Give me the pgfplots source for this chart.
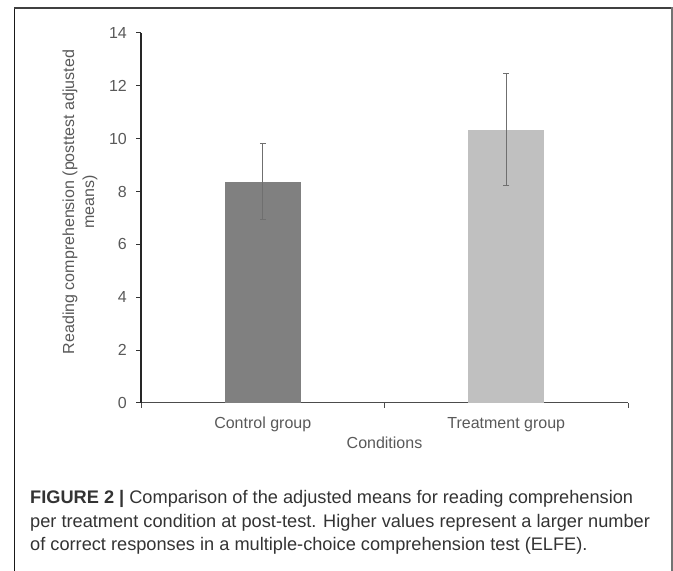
\documentclass[border=0pt]{standalone}
\usepackage{fontspec}
\setmainfont{Liberation Sans}
\usepackage{pgfplots}
\pgfplotsset{compat=1.18}
\definecolor{barA}{HTML}{808080}
\definecolor{barB}{HTML}{C0C0C0}
\definecolor{txt}{HTML}{595959}
\definecolor{errc}{HTML}{6F6F6F}
\begin{document}
\begin{tikzpicture}[x=1bp,y=1bp]
\useasboundingbox (0,0) rectangle (673,571);
% frame
\draw[line width=1.5bp, black!90] (14.5,0) -- (14.5,563);
\draw[line width=1.5bp, black!75] (14,563) -- (672,563);
\draw[line width=2bp, black!55] (671.5,0) -- (671.5,563.5);
\begin{axis}[
    at={(141bp,168bp)}, anchor=south west,
    scale only axis, width=487bp, height=370bp,
    xmin=0, xmax=2, ymin=0, ymax=14,
    axis x line*=bottom, axis y line*=left,
    x axis line style={-, line width=1bp, black!70},
    y axis line style={-, line width=1.3bp, black!85},
    tick align=outside, major tick length=5bp,
    xtick={0,1,2}, x tick label as interval,
    xticklabels={Control group, Treatment group},
    ytick={0,2,...,14},
    x tick style={line width=1bp, black!70},
    y tick style={line width=1bp, black!80},
    /pgf/number format/assume math mode=true,
    tick label style={font=\fontsize{16bp}{19bp}\selectfont, text=txt},
    xticklabel style={anchor=base, yshift=-21bp},
    yticklabel style={anchor=east, inner sep=0pt, xshift=-9bp},
    xlabel={Conditions},
    xlabel style={at={(axis description cs:0.5,-0.1243)}, anchor=base,
        font=\fontsize{16bp}{19bp}\selectfont, text=txt},
    ylabel={Reading comprehension (posttest adjusted\\means)},
    ylabel style={at={(axis description cs:-0.1254,0.5432)}, anchor=center,
        align=center, font=\fontsize{16bp}{20bp}\selectfont, text=txt},
  ]
  \addplot[ybar, bar width=76bp, bar shift=0pt, fill=barA, draw=none,
    error bars/.cd, y dir=both, y explicit,
    error bar style={line width=1.2bp, errc},
    error mark options={rotate=90, mark size=3bp, line width=1.2bp, errc}]
    coordinates {(0.5,8.38) +- (0,1.43)};
  \addplot[ybar, bar width=76bp, bar shift=0pt, fill=barB, draw=none,
    error bars/.cd, y dir=both, y explicit,
    error bar style={line width=1.2bp, errc},
    error mark options={rotate=90, mark size=3bp, line width=1.2bp, errc}]
    coordinates {(1.5,10.34) +- (0,2.12)};
\end{axis}
% caption
\begin{scope}[every node/.style={anchor=base west, inner sep=0pt,
    font=\fontsize{18.2bp}{20bp}\selectfont, text=black!80}]
\node at (30,67) {\textbf{FIGURE 2 |} Comparison of the adjusted means for reading comprehension};
\node at (30,43.5) {per treatment condition at post-test. Higher values represent a larger number};
\node at (30,20) {of correct responses in a multiple-choice comprehension test (ELFE).};
\end{scope}
\end{tikzpicture}
\end{document}
